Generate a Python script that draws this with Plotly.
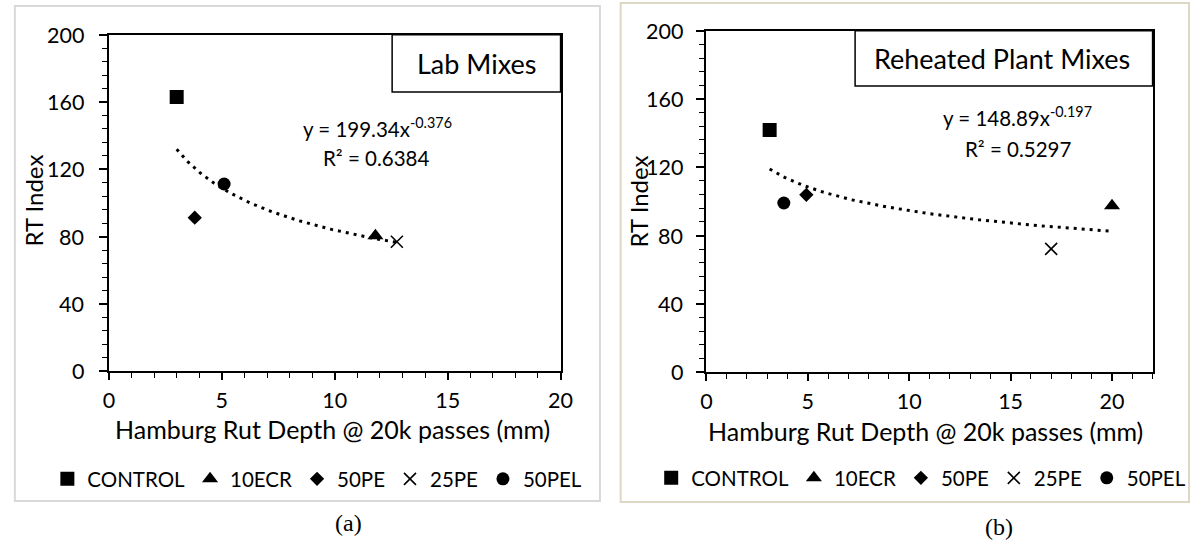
import numpy as np
import plotly.graph_objects as go

# ---------------- data ----------------
series = ["CONTROL", "10ECR", "50PE", "25PE", "50PEL"]
symbols = ["square", "triangle-up", "diamond", "x-thin-open", "circle"]
msizes = [14, 14, 11, 12, 13]

lab_rut = [3.0, 11.8, 3.8, 12.75, 5.1]
lab_rt = [163.0, 80.5, 91.3, 77.0, 111.3]

plant_rut = [3.12, 20.0, 4.93, 17.0, 3.82]
plant_rt = [141.8, 97.5, 103.9, 72.2, 99.1]

lab_fit = (199.34, -0.376)
plant_fit = (148.89, -0.197)
lab_eq = ["y = 199.34x<sup>-0.376</sup>", "R² = 0.6384"]
plant_eq = ["y = 148.89x<sup>-0.197</sup>", "R² = 0.5297"]

y_ticks = [0, 40, 80, 120, 160, 200]
lab_x_ticks = [0, 5, 10, 15, 20]
plant_x_ticks = [0, 5, 10, 15, 20]

# ---------------- layout helpers ----------------
W, H = 1203, 542
def fx(px):
    return px / W
def fy(py):
    return 1 - py / H

FONT = "Lato"
fig = go.Figure()

for i, name in enumerate(series):
    sym = symbols[i]
    mk = dict(symbol=sym, size=msizes[i], color="black")
    if sym == "x-thin-open":
        mk["line"] = dict(color="black", width=1.6)
    fig.add_trace(go.Scatter(x=[lab_rut[i]], y=[lab_rt[i]], mode="markers", name=name,
                             marker=mk, xaxis="x", yaxis="y", legend="legend"))
    fig.add_trace(go.Scatter(x=[plant_rut[i]], y=[plant_rt[i]], mode="markers", name=name,
                             marker=mk, xaxis="x2", yaxis="y2", legend="legend2"))

# power trendlines from displayed fit coefficients
for (rut, fit, xa, ya) in [(lab_rut, lab_fit, "x", "y"), (plant_rut, plant_fit, "x2", "y2")]:
    xs = np.linspace(min(rut), max(rut), 200)
    ys = fit[0] * xs ** fit[1]
    fig.add_trace(go.Scatter(x=xs, y=ys, mode="lines", showlegend=False, hoverinfo="skip",
                             line=dict(color="black", width=3, dash="3px,5px"),
                             xaxis=xa, yaxis=ya))

TICK_SIZE = 21.5
tickfont = dict(family=FONT, size=TICK_SIZE, color="black")

def xaxis(domain, rng, anchor, ticks):
    return dict(domain=domain, range=rng, anchor=anchor, tickvals=ticks,
                showline=True, linecolor="black", linewidth=1.8, mirror=True,
                ticks="outside", ticklen=7, tickwidth=1.5, tickcolor="black",
                minor=dict(dtick=1, ticks="outside", ticklen=5, tickwidth=1.3, tickcolor="black"),
                showgrid=False, zeroline=False, tickfont=tickfont, ticklabelstandoff=2)

def yaxis(domain, anchor):
    return dict(domain=domain, range=[0, 200], anchor=anchor, tickvals=y_ticks,
                showticklabels=False,
                showline=True, linecolor="black", linewidth=1.8, mirror=True,
                ticks="outside", ticklen=8, tickwidth=1.5, tickcolor="black",
                minor=dict(dtick=8, ticks="outside", ticklen=5, tickwidth=1.3, tickcolor="black"),
                showgrid=False, zeroline=False)

def overlay(base, domain, rng, anchor, ticks):
    return dict(domain=domain, range=rng, anchor=anchor, overlaying=base, tickvals=ticks,
                showline=False, ticks="inside", ticklen=7, tickwidth=1.5, tickcolor="black",
                showticklabels=False, showgrid=False, zeroline=False)

L_X0, L_X1 = 104.5, 563
R_X0, R_X1 = 711, 1164
lx = [fx(L_X0), fx(L_X1)]
ly = [fy(371.3), fy(34.7)]
rx = [fx(R_X0), fx(R_X1)]
ry = [fy(372.2), fy(30.7)]

legfont = dict(family=FONT, size=20.5, color="black")
fig.update_layout(
    width=W, height=H, margin=dict(l=0, r=0, t=0, b=0),
    paper_bgcolor="white", plot_bgcolor="rgba(0,0,0,0)",
    font=dict(family=FONT, color="black"),
    xaxis=xaxis(lx, [0, 20], "y", lab_x_ticks),
    yaxis=yaxis(ly, "x"),
    xaxis2=xaxis(rx, [0, 22], "y2", plant_x_ticks),
    yaxis2=yaxis(ry, "x2"),
    xaxis3=overlay("x", lx, [0, 20], "y", lab_x_ticks),
    yaxis3=overlay("y", ly, [0, 200], "x", y_ticks),
    xaxis4=overlay("x2", rx, [0, 22], "y2", plant_x_ticks),
    yaxis4=overlay("y2", ry, [0, 200], "x2", y_ticks),
    legend=dict(orientation="h", x=fx(42), y=fy(479), xanchor="left", yanchor="middle",
                font=legfont, bgcolor="rgba(0,0,0,0)", itemwidth=30, tracegroupgap=0),
    legend2=dict(orientation="h", x=fx(655), y=fy(478), xanchor="left", yanchor="middle",
                 font=legfont, bgcolor="rgba(0,0,0,0)", itemwidth=30, tracegroupgap=0),
    showlegend=True,
)

shapes = [
    # panel borders
    dict(type="rect", xref="paper", yref="paper", x0=fx(9), x1=fx(603), y0=fy(501), y1=fy(6),
         line=dict(color="#d9d9d9", width=2), layer="below"),
    dict(type="rect", xref="paper", yref="paper", x0=fx(624), x1=fx(1201), y0=fy(502), y1=fy(3),
         line=dict(color="#ddd8c4", width=2), layer="below"),
    # label boxes
    dict(type="rect", xref="paper", yref="paper", x0=fx(392), x1=fx(563), y0=fy(92), y1=fy(34.7),
         line=dict(color="black", width=1.5), fillcolor="white"),
    dict(type="rect", xref="paper", yref="paper", x0=fx(862), x1=fx(1164), y0=fy(86), y1=fy(30.7),
         line=dict(color="black", width=1.5), fillcolor="white"),
]
fig.update_layout(shapes=shapes)

def ann(text, px, py, size, family=FONT, angle=0):
    return dict(text=text, x=fx(px), y=fy(py), xref="paper", yref="paper",
                xanchor="center", yanchor="middle", showarrow=False, textangle=angle,
                font=dict(family=family, size=size, color="black"))

annotations = [
    ann("Lab Mixes", 478, 64, 27),
    ann("Reheated Plant Mixes", 1011, 59, 27),
    ann(lab_eq[0], 377, 127, 20.5),
    ann(lab_eq[1], 376, 158, 20.5),
    ann(plant_eq[0], 1027, 117, 20.5),
    ann(plant_eq[1], 1027, 148.5, 20.5),
    ann("Hamburg Rut Depth @ 20k passes (mm)", 331.5, 429, 25),
    ann("Hamburg Rut Depth @ 20k passes (mm)", 933, 431, 25),
    ann("RT Index", 28, 201, 24, angle=-90),
    ann("RT Index", 643, 201, 24, angle=-90),
    ann("(a)", 348, 523, 24, family="Liberation Serif"),
    ann("(b)", 1008, 527, 24, family="Liberation Serif"),
]

# y tick labels placed at the tick values, right-aligned at a fixed gap from the axis
for xref, x0, x1, gap in [("x domain", L_X0, L_X1, 23.5), ("x2 domain", R_X0, R_X1, 21.5)]:
    yref = "y" if xref == "x domain" else "y2"
    for v in y_ticks:
        annotations.append(dict(text=str(v), xref=xref, yref=yref, x=-gap / (x1 - x0), y=v,
                                xanchor="right", yanchor="middle", showarrow=False,
                                font=tickfont))

fig.update_layout(annotations=annotations)

fig.write_html("out.html")
